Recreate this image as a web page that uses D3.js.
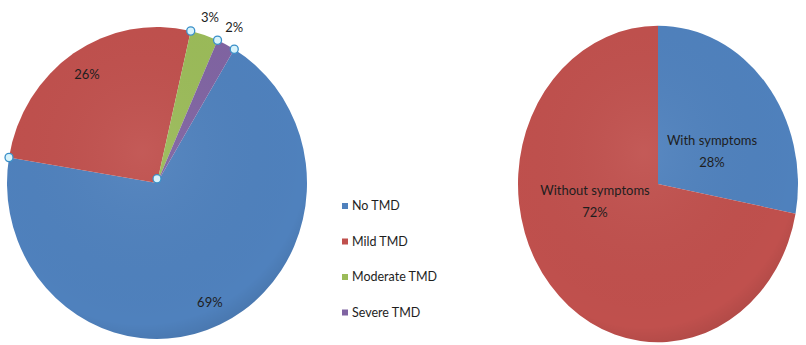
<!DOCTYPE html>
<html>
<head>
<meta charset="utf-8">
<script src="https://cdn.jsdelivr.net/npm/d3@7"></script>
<style>
  body { margin: 0; background: #fff; }
  text { font-family: Lato, "Open Sans", sans-serif; fill: #1e1e1e; }
</style>
</head>
<body>
<svg id="chart" width="806" height="345"></svg>
<script>
// Severity data (left pie)
var tmdCategories = ["No TMD", "Mild TMD", "Moderate TMD", "Severe TMD"];
var tmdValues = [69, 26, 3, 2];
var tmdColors = ["#4f81bd", "#c0504d", "#9bbb59", "#8064a2"];

// Symptoms data (right pie)
var symCategories = ["With symptoms", "Without symptoms"];
var symValues = [28, 72];
var symColors = ["#4f81bd", "#c0504d"];

var svg = d3.select("#chart");

// Gradient to give the slight shaded look
var defs = svg.append("defs");
function addShade(id) {
  var g = defs.append("radialGradient").attr("id", id)
      .attr("cx", "45%").attr("cy", "40%").attr("r", "65%");
  g.append("stop").attr("offset", "0%").attr("stop-color", "#fff").attr("stop-opacity", 0.06);
  g.append("stop").attr("offset", "85%").attr("stop-color", "#000").attr("stop-opacity", 0.0);
  g.append("stop").attr("offset", "100%").attr("stop-color", "#000").attr("stop-opacity", 0.12);
}
addShade("shade");

// Left pie
var leftR = 150;
var left = svg.append("g").attr("transform", "translate(157,183) scale(1,1.04)");

var startOffset = 31 * Math.PI / 180;
var pieL = d3.pie().sort(null)
    .startAngle(startOffset).endAngle(startOffset + 2 * Math.PI);
var arcL = d3.arc().innerRadius(0).outerRadius(leftR);
var arcsL = pieL(tmdValues);

left.selectAll("path.slice")
  .data(arcsL)
  .enter().append("path")
    .attr("class", "slice")
    .attr("d", arcL)
    .attr("fill", (d, i) => tmdColors[i]);

left.append("circle").attr("r", leftR).attr("fill", "url(#shade)");

// Selection handles on the slice edges
var handles = arcsL.map(d => [Math.sin(d.startAngle) * leftR, -Math.cos(d.startAngle) * leftR]);
handles.push([0, -4]);
left.selectAll("circle.handle")
  .data(handles)
  .enter().append("circle")
    .attr("class", "handle")
    .attr("cx", d => d[0]).attr("cy", d => d[1])
    .attr("r", 4)
    .attr("fill", "#d8f3fb")
    .attr("stroke", "#3a8fc8")
    .attr("stroke-width", 1.3);

// Percent labels
var labelArc = d3.arc().innerRadius(leftR * 0.84).outerRadius(leftR * 0.84);
var outArc = d3.arc().innerRadius(leftR * 1.12).outerRadius(leftR * 1.12);
left.selectAll("text.pct")
  .data(arcsL)
  .enter().append("text")
    .attr("class", "pct")
    .attr("transform", function(d, i) {
      var c = (d.data >= 10 ? labelArc : outArc).centroid(d);
      return "translate(" + c[0] + "," + c[1] + ") scale(1," + (1 / 1.04) + ")";
    })
    .attr("text-anchor", "middle")
    .attr("dy", "0.35em")
    .style("font-size", "13px")
    .text(d => d.data + "%");

// Legend
var legend = svg.append("g").attr("transform", "translate(342,206)");
var item = legend.selectAll("g")
  .data(tmdCategories)
  .enter().append("g")
    .attr("transform", (d, i) => "translate(0," + (i * 35.5) + ")");
item.append("rect").attr("x", 0).attr("y", -3).attr("width", 6).attr("height", 6)
    .attr("fill", (d, i) => tmdColors[i]);
item.append("text").attr("x", 10).attr("dy", "0.35em")
    .style("font-size", "12.5px").text(d => d);

// Right pie
var rightR = 140;
var right = svg.append("g").attr("transform", "translate(658,184) scale(1,1.13)");
var pieR = d3.pie().sort(null);
var arcR = d3.arc().innerRadius(0).outerRadius(rightR);
var arcsR = pieR(symValues);

right.selectAll("path")
  .data(arcsR)
  .enter().append("path")
    .attr("d", arcR)
    .attr("fill", (d, i) => symColors[i]);
right.append("circle").attr("r", rightR).attr("fill", "url(#shade)");

var symLabelPos = [[54, -29], [-63, 15]];
var rl = right.selectAll("g.lbl")
  .data(arcsR)
  .enter().append("g")
    .attr("class", "lbl")
    .attr("transform", (d, i) => "translate(" + symLabelPos[i][0] + "," + symLabelPos[i][1] + ") scale(1," + (1 / 1.13) + ")");
rl.append("text").attr("text-anchor", "middle").attr("y", -6)
    .style("font-size", "13px").text((d, i) => symCategories[i]);
rl.append("text").attr("text-anchor", "middle").attr("y", 16)
    .style("font-size", "13px").text(d => d.data + "%");
</script>
</body>
</html>
